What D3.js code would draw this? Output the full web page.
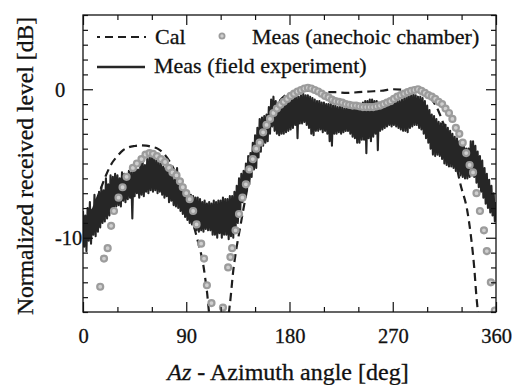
<!DOCTYPE html>
<html>
<head>
<meta charset="utf-8">
<script src="https://cdn.jsdelivr.net/npm/d3@7"></script>
<style>
html,body{margin:0;padding:0;background:#fff;}
svg{display:block;font-family:"Liberation Serif","Times New Roman",serif;}
svg text{stroke:#111;stroke-width:0.3px;fill:#111;}
</style>
</head>
<body>
<svg id="chart" width="524" height="385"></svg>
<script>
// ---- data ----
const xTickValues = [0, 90, 180, 270, 360];
const yTickValues = [-10, 0];

// Cal (dashed)
const calAz = [0,5,10,15,20,25,30,35,40,45,50,55,60,65,70,75,80,85,90,95,100,105,108,111,
  126,128,131,134,137,140,145,150,155,160,165,170,175,180,185,190,200,210,220,230,240,250,260,270,280,290,300,305,310,315,320,325,329,335,338,341,343,345];
const calDb = [-10,-8.9,-7.8,-6.8,-5.8,-5.0,-4.5,-4.1,-3.9,-3.82,-3.78,-3.8,-3.88,-4.0,-4.3,-4.8,-5.5,-6.4,-7.6,-8.8,-10.2,-11.9,-13.6,-15.5,
  -15.5,-14.5,-12.2,-10.6,-9.3,-8.0,-6.0,-4.3,-3.0,-2.1,-1.4,-0.9,-0.5,-0.3,-0.15,-0.1,-0.1,-0.2,-0.2,-0.25,-0.2,-0.15,-0.1,0.0,-0.05,-0.2,-0.4,-0.8,-1.5,-2.5,-3.6,-5.0,-6.4,-8.2,-9.8,-12.0,-14.0,-15.5];

// Meas (anechoic chamber) dots
const anAz = [15,18.3,21.5,24.5,27,31,34.5,38,43.5,47,51,54.5,58,61,64.5,68,71.5,75,78,81.5,84.5,87,90,93,96,99,103,105.5,108,112,122,
  126.5,128.5,130,133,136,139,142,145,148,151,154,157,160,163,166,169,172,175,178,181,184,187,190,193,196,199,202,205,208,211,214,217,220,223,226,229,232,235,238,241,244,247,250,253,256,259,262,265,268,271,274,277,280,283,286,289,292,295,298,301,304,307,310,313,316,319,322,325,328,331,334,337,340,343,346,349.5,352,355.5,359];
const anDb = [-13.3,-11.4,-10.7,-9.2,-8.2,-7.3,-6.6,-5.9,-5.3,-5.0,-4.7,-4.4,-4.3,-4.35,-4.5,-4.7,-4.9,-5.3,-5.6,-5.8,-6.2,-6.6,-7.0,-7.4,-8.2,-9.1,-10.4,-11.4,-13.2,-14.4,-14.7,
  -12.0,-11.3,-10.7,-9.5,-8.4,-7.3,-6.4,-5.4,-4.7,-4.0,-3.6,-2.9,-2.4,-2.0,-1.6,-1.3,-1.05,-0.85,-0.65,-0.45,-0.3,-0.15,-0.05,0.05,0.1,0.05,-0.05,-0.15,-0.3,-0.45,-0.55,-0.7,-0.8,-0.85,-0.9,-1.0,-1.05,-1.1,-1.1,-1.15,-1.2,-1.2,-1.2,-1.2,-1.15,-1.1,-1.0,-0.9,-0.8,-0.65,-0.5,-0.4,-0.3,-0.2,-0.1,-0.05,0.0,-0.1,-0.25,-0.4,-0.5,-0.65,-0.85,-1.0,-1.3,-1.6,-2.0,-2.6,-3.0,-3.6,-4.3,-5.1,-5.6,-7.0,-8.2,-9.5,-10.9,-13.0,-14.9];

// Meas (field experiment), one sample per degree 0..360
const fieldDb = [
-8.2,-10.6,-8.5,-10.9,-8.0, -10.2,-7.6,-10.4,-8.1,-9.8,
-7.1,-9.9,-7.4,-9.6,-6.9, -9.3,-6.6,-9.0,-6.8,-8.9,
-6.0,-8.7,-6.4,-8.5,-5.8, -8.3,-5.9,-8.0,-5.7,-7.9,
-5.8,-7.8,-6.0,-7.9,-5.6, -7.5,-5.7,-7.6,-5.9,-7.4,
-5.5,-7.3,-5.6,-8.7,-5.3, -7.2,-5.2,-7.0,-5.4,-7.3,
-5.0,-7.1,-4.9,-7.2,-5.1, -6.9,-4.7,-7.0,-4.6,-6.8,
-4.5,-6.9,-4.7,-6.8,-4.8, -7.0,-4.9,-6.9,-5.0,-7.1,
-5.2,-7.3,-5.3,-7.2,-5.5, -7.6,-5.6,-7.5,-5.9,-7.8,
-6.1,-7.9,-5.3,-8.0,-6.4, -8.2,-6.6,-8.4,-6.7,-8.6,
-6.9,-8.8,-7.0,-9.0,-7.1, -9.1,-7.2,-9.3,-7.3,-9.5,
-7.3,-9.6,-7.4,-9.5,-7.6, -9.6,-7.5,-9.4,-7.7,-9.5,
-7.6,-9.5,-7.7,-9.8,-7.5, -9.8,-7.6,-10.0,-7.5,-9.7,
-7.5,-10.0,-7.3,-9.8,-7.4, -9.8,-7.4,-10.1,-7.2,-9.9,
-7.2,-10.0,-6.9,-9.5,-6.5, -9.0,-6.0,-8.4,-5.7,-7.6,
-5.5,-7.4,-5.0,-6.8,-4.5, -6.4,-4.3,-5.9,-3.6,-5.4,
-3.1,-5.3,-2.6,-4.6,-2.0, -4.2,-1.9,-3.8,-1.8,-3.6,
-1.7,-3.5,-1.2,-3.0,-0.7, -2.5,-0.5,-2.8,-0.8,-3.0,
-1.0,-3.1,-0.9,-3.0,-1.0, -3.0,-0.9,-2.9,-0.7,-2.8,
-0.6,-2.7,-0.5,-2.6,-0.4, -2.4,-0.4,-3.3,-0.5,-2.3,
-0.4,-2.3,-0.3,-2.2,-0.4, -2.4,-0.4,-2.6,-0.5,-3.0,
-0.6,-3.1,-0.7,-2.8,-0.8, -2.8,-0.8,-2.7,-0.9,-2.9,
-0.9,-2.8,-1.0,-3.0,-1.0, -3.5,-1.0,-3.8,-1.1,-3.0,
-1.1,-3.0,-1.2,-2.9,-1.2, -3.0,-1.2,-2.9,-1.3,-2.8,
-1.2,-2.8,-1.2,-3.0,-1.2, -3.2,-1.2,-3.3,-1.1,-3.6,
-1.1,-3.6,-1.0,-3.4,-0.9, -3.4,-0.8,-4.3,-0.8,-3.3,
-0.7,-3.5,-0.7,-3.2,-0.8, -3.0,-0.8,-4.1,-0.9,-2.8,
-0.9,-2.7,-0.9,-2.6,-0.9, -2.5,-0.9,-2.4,-0.9,-2.5,
-0.9,-2.4,-0.8,-2.5,-0.8, -2.6,-0.8,-2.7,-0.7,-2.8,
-0.6,-2.8,-0.5,-2.9,-0.4, -2.6,-0.4,-2.5,-0.3,-2.4,
-0.4,-2.4,-0.5,-2.6,-0.5, -2.7,-0.6,-3.0,-0.8,-3.3,
-1.1,-3.6,-1.4,-4.0,-1.7, -4.4,-1.8,-4.5,-2.0,-4.4,
-2.2,-4.5,-2.3,-4.7,-2.3, -5.0,-2.4,-5.1,-2.6,-5.2,
-2.8,-5.2,-3.0,-5.3,-3.2, -5.5,-3.3,-5.6,-3.5,-5.8,
-3.7,-5.9,-3.8,-6.0,-4.0, -6.0,-4.0,-5.9,-3.5,-5.8,
-3.5,-5.9,-3.8,-6.3,-4.2, -6.6,-4.5,-6.9,-4.8,-7.3,
-5.3,-7.7,-5.7,-8.0,-6.1, -8.3,-6.5,-8.5,-7.0,-8.9,
-7.6];
const fieldAz = fieldDb.map((d, i) => i);

// ---- chart ----
const svg = d3.select("#chart");
const L = 83, R = 496, T = 15, B = 312;
const x = d3.scaleLinear().domain([0, 360]).range([L, R]);
const y = d3.scaleLinear().domain([-15, 5]).range([B, T]);

svg.append("defs").append("clipPath").attr("id", "clip")
  .append("rect").attr("x", L).attr("y", T).attr("width", R - L).attr("height", B - T);

const plot = svg.append("g").attr("clip-path", "url(#clip)");

// Cal dashed (drawn beneath the field data)
plot.append("path")
  .datum(calAz.map((a, i) => [a, calDb[i]]))
  .attr("fill", "none").attr("stroke", "#1e1e1e").attr("stroke-width", 2.2)
  .attr("stroke-dasharray", "8,5")
  .attr("d", d3.line().x(d => x(d[0])).y(d => y(d[1])).curve(d3.curveMonotoneX));

// field experiment
plot.append("path")
  .datum(fieldAz.map((a, i) => [a, fieldDb[i]]))
  .attr("fill", "none").attr("stroke", "#262626").attr("stroke-width", 2.1)
  .attr("stroke-linejoin", "round")
  .attr("d", d3.line().x(d => x(d[0])).y(d => y(d[1])));

// anechoic dots
plot.selectAll("circle.an").data(anAz.map((a, i) => [a, anDb[i]])).enter()
  .append("circle").attr("class", "an")
  .attr("cx", d => x(d[0])).attr("cy", d => y(d[1]))
  .attr("r", 3.0).attr("fill", "#cfcfcf").attr("stroke", "#9c9c9c").attr("stroke-width", 2.2);

// axes ticks
const axisStyle = g => {
  g.select(".domain").remove();
  g.selectAll("line").attr("stroke", "#111").attr("stroke-width", 1.2);
};
const xMinor = d3.range(0, 361, 30);
const yMinor = d3.range(-15, 5.01, 1);

function ticksX(pos, dir) {
  const g = svg.append("g").attr("transform", `translate(0,${pos})`);
  g.call((dir > 0 ? d3.axisTop(x) : d3.axisBottom(x)).tickValues(xMinor).tickSize(0).tickFormat(""))
   .call(axisStyle);
  g.selectAll(".tick line").attr("y2", d => (d % 90 === 0 ? 10 : 5) * dir);
}
ticksX(B, -1);
ticksX(T, 1);

function ticksY(pos, dir) {
  const g = svg.append("g").attr("transform", `translate(${pos},0)`);
  g.call(d3.axisLeft(y).tickValues(yMinor).tickSize(0).tickFormat("")).call(axisStyle);
  g.selectAll(".tick line").attr("x2", d => (Math.abs(d % 10) < 1e-9 ? 10 : 5) * dir);
}
ticksY(L, 1);
ticksY(R, -1);

// frame
svg.append("rect").attr("x", L).attr("y", T).attr("width", R - L).attr("height", B - T)
  .attr("fill", "none").attr("stroke", "#111").attr("stroke-width", 1.3);

// tick labels
const xl = svg.append("g").attr("transform", `translate(0,${B})`)
  .call(d3.axisBottom(x).tickValues(xTickValues).tickSize(0).tickFormat(d3.format("d")));
xl.select(".domain").remove();
xl.selectAll("text").attr("font-family", "Liberation Serif").attr("font-size", 20.5)
  .attr("y", 31).attr("dy", 0);

const yl = svg.append("g").attr("transform", `translate(${L},0)`)
  .call(d3.axisLeft(y).tickValues(yTickValues).tickSize(0).tickFormat(d => d));
yl.select(".domain").remove();
yl.selectAll("text").attr("font-family", "Liberation Serif").attr("font-size", 20.5)
  .attr("text-anchor", "start").attr("x", -28).attr("dy", "0.34em");

// axis titles
const xt = svg.append("text").attr("x", 288).attr("y", 380).attr("text-anchor", "middle")
  .attr("font-size", 24);
xt.append("tspan").attr("font-style", "italic").text("Az");
xt.append("tspan").text(" - Azimuth angle [deg]");

svg.append("text").attr("transform", "translate(33,166) rotate(-90)").attr("text-anchor", "middle")
  .attr("font-size", 23.6).text("Normalized received level [dB]");

// legend
const lg = svg.append("g").attr("font-size", 22);
lg.append("line").attr("x1", 97).attr("x2", 146).attr("y1", 37).attr("y2", 37)
  .attr("stroke", "#1e1e1e").attr("stroke-width", 2.2).attr("stroke-dasharray", "3,5,8,5,8,5,8,5");
lg.append("text").attr("x", 155).attr("y", 44).text("Cal");
lg.append("circle").attr("cx", 222).attr("cy", 36).attr("r", 2.6)
  .attr("fill", "#cfcfcf").attr("stroke", "#9c9c9c").attr("stroke-width", 1.8);
lg.append("text").attr("x", 252).attr("y", 44).text("Meas (anechoic chamber)");
lg.append("line").attr("x1", 97).attr("x2", 145).attr("y1", 67).attr("y2", 67)
  .attr("stroke", "#262626").attr("stroke-width", 2.4);
lg.append("text").attr("x", 154).attr("y", 73).text("Meas (field experiment)");
</script>
</body>
</html>
